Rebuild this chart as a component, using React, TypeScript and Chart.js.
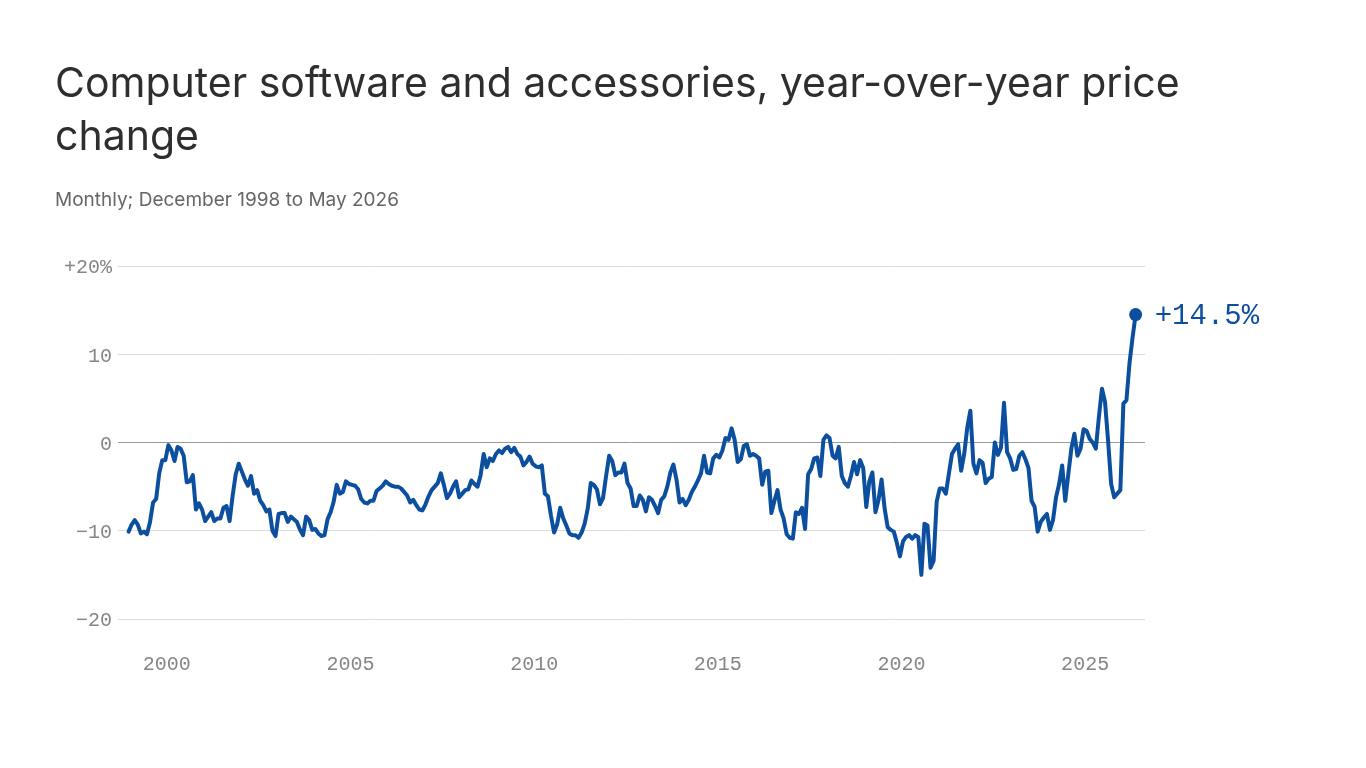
import { useEffect, useRef } from 'react';
import { Chart, registerables } from 'chart.js';

Chart.register(...registerables);

// Year-over-year price change (%), monthly, Dec 1998 - May 2026
const START_YEAR = 1998;
const START_MONTH = 11; // December, 0-based

const yoy1998to2003 = [
  -10.1, // Dec 1998
  -9.3, -8.8, -9.3, -10.3, -10.1, -10.4, -9.0, -6.8, -6.4, -3.5, -2.0, -2.0, // 1999
  -0.3, -0.9, -2.1, -0.5, -0.7, -1.5, -4.5, -4.4, -3.7, -7.6, -6.9, -7.6, // 2000
  -8.9, -8.4, -7.9, -8.9, -8.6, -8.6, -7.4, -7.2, -8.9, -6.0, -3.6, -2.4, // 2001
  -3.3, -4.2, -4.9, -3.8, -5.8, -5.4, -6.6, -7.1, -7.8, -7.6, -10.0, -10.6, // 2002
  -8.1, -8.0, -8.0, -9.0, -8.4, -8.7, -9.0, -9.9, -10.5, -8.4, -8.8, -9.9, // 2003
];

const yoy2004to2008 = [
  -9.8, -10.3, -10.6, -10.5, -8.7, -7.9, -6.7, -4.8, -5.8, -5.6, -4.4, -4.7, // 2004
  -4.8, -4.9, -5.3, -6.4, -6.8, -6.9, -6.6, -6.6, -5.5, -5.2, -4.9, -4.4, // 2005
  -4.7, -4.9, -5.0, -5.0, -5.2, -5.6, -6.0, -6.8, -6.5, -7.1, -7.6, -7.7, // 2006
  -7.0, -6.1, -5.4, -5.0, -4.6, -3.5, -4.8, -6.3, -5.8, -5.0, -4.4, -6.2, // 2007
  -5.8, -5.4, -5.3, -4.3, -4.7, -5.0, -3.7, -1.3, -2.8, -1.8, -2.1, -1.3, // 2008
];

const yoy2009to2013 = [
  -0.9, -1.2, -0.7, -0.5, -1.1, -0.6, -1.3, -1.6, -2.6, -2.2, -1.6, -2.4, // 2009
  -2.7, -2.8, -2.6, -5.8, -6.1, -8.3, -10.2, -9.3, -7.4, -8.6, -9.4, -10.3, // 2010
  -10.5, -10.5, -10.8, -10.2, -9.2, -7.5, -4.6, -4.8, -5.3, -7.0, -6.3, -3.8, // 2011
  -1.5, -2.1, -3.7, -3.4, -3.4, -2.4, -4.6, -5.2, -7.2, -7.2, -6.0, -6.5, // 2012
  -7.8, -6.2, -6.5, -7.2, -8.0, -6.5, -6.1, -5.0, -3.4, -2.5, -4.2, -6.8, // 2013
];

const yoy2014to2018 = [
  -6.4, -7.1, -6.5, -5.6, -5.0, -4.3, -3.5, -1.5, -3.4, -3.5, -1.8, -1.4, // 2014
  -1.7, -0.9, 0.5, 0.3, 1.6, 0.3, -2.2, -1.9, -0.4, -0.2, -1.5, -1.3, // 2015
  -1.5, -1.8, -4.8, -3.3, -3.2, -8.0, -6.6, -5.4, -7.6, -8.6, -10.4, -10.8, // 2016
  -10.9, -7.9, -8.1, -7.4, -9.8, -3.6, -3.0, -1.8, -1.7, -3.8, 0.3, 0.8, // 2017
  0.5, -1.5, -1.8, -0.5, -3.8, -4.6, -5.0, -3.8, -2.2, -3.6, -2.0, -2.9, // 2018
];

const yoy2019to2023 = [
  -7.3, -4.4, -3.4, -7.9, -6.5, -4.2, -7.5, -9.6, -9.9, -10.1, -11.4, -12.9, // 2019
  -11.2, -10.7, -10.5, -10.9, -10.5, -10.7, -15.0, -9.2, -9.4, -14.2, -13.4, -6.7, // 2020
  -5.2, -5.2, -5.8, -3.5, -1.3, -0.7, -0.2, -3.2, -1.3, 1.7, 3.6, -2.4, // 2021
  -3.5, -2.0, -2.3, -4.6, -4.1, -3.9, 0.0, -1.4, -0.6, 4.5, -1.1, -1.8, // 2022
  -3.1, -3.0, -1.5, -1.1, -1.9, -2.9, -6.6, -7.3, -10.1, -9.0, -8.5, -8.1, // 2023
];

const yoy2024to2026 = [
  -9.9, -8.8, -6.2, -4.7, -2.6, -6.6, -3.6, -0.7, 1.0, -1.5, -0.7, 1.5, // 2024
  1.3, 0.4, 0.0, -0.7, 2.9, 6.1, 4.6, 0.2, -4.7, -6.2, -5.8, -5.4, // 2025
  4.4, 4.8, 9.0, 11.9, 14.5, // Jan-May 2026
];

const yTicks = [-20, -10, 0, 10, 20];
const xTicks = [2000, 2005, 2010, 2015, 2020, 2025];

const BLUE = '#0b4f9e';
const TICK_GREY = '#858585';
const MONO = '"Liberation Mono", "DejaVu Sans Mono", monospace';

const values = [
  ...yoy1998to2003,
  ...yoy2004to2008,
  ...yoy2009to2013,
  ...yoy2014to2018,
  ...yoy2019to2023,
  ...yoy2024to2026,
];

// plot each month at its middle
const points = values.map((v, i) => ({ x: START_YEAR + (START_MONTH + i + 0.5) / 12, y: v }));

const endLabel = {
  id: 'endLabel',
  afterDatasetsDraw(chart: Chart) {
    const meta = chart.getDatasetMeta(0);
    const last = meta.data[meta.data.length - 1];
    if (!last) return;
    const v = values[values.length - 1];
    const ctx = chart.ctx;
    ctx.save();
    ctx.font = `29px ${MONO}`;
    ctx.fillStyle = BLUE;
    ctx.textBaseline = 'middle';
    ctx.fillText(`${v > 0 ? '+' : ''}${v.toFixed(1)}%`, last.x + 19, last.y + 2);
    ctx.restore();
  },
};

function PriceChart() {
  const canvasRef = useRef<HTMLCanvasElement>(null);

  useEffect(() => {
    if (!canvasRef.current) return;
    const lastIndex = points.length - 1;

    const chart = new Chart(canvasRef.current, {
      type: 'line',
      data: {
        datasets: [
          {
            data: points,
            borderColor: BLUE,
            backgroundColor: BLUE,
            borderWidth: 4,
            borderJoinStyle: 'round',
            borderCapStyle: 'round',
            tension: 0,
            pointRadius: (ctx: any) => (ctx.dataIndex === lastIndex ? 6.5 : 0),
            pointHoverRadius: 0,
            pointBorderWidth: 0,
          },
        ],
      },
      options: {
        animation: false,
        responsive: true,
        maintainAspectRatio: false,
        layout: { padding: { top: 266, right: 221, bottom: 69, left: 0 } },
        plugins: { legend: { display: false }, tooltip: { enabled: false } },
        scales: {
          x: {
            type: 'linear',
            min: 1998.67,
            max: 2026.63,
            afterBuildTicks: (scale: any) => {
              scale.ticks = xTicks.map((value) => ({ value }));
            },
            afterFit: (scale: any) => {
              scale.height = 80;
            },
            grid: { display: false, drawTicks: false },
            border: { display: false },
            ticks: {
              color: TICK_GREY,
              font: { family: MONO, size: 20 },
              padding: 34,
              maxRotation: 0,
              callback: (v: any) => String(v),
            },
          },
          y: {
            min: -20,
            max: 20,
            afterBuildTicks: (scale: any) => {
              scale.ticks = yTicks.map((value) => ({ value }));
            },
            afterFit: (scale: any) => {
              scale.width = 118;
            },
            grid: {
              drawTicks: false,
              lineWidth: 1,
              color: (ctx: any) => (ctx.tick && ctx.tick.value === 0 ? '#9a9a9a' : '#dcdcdc'),
            },
            border: { display: false },
            ticks: {
              color: TICK_GREY,
              font: { family: MONO, size: 20 },
              padding: 6,
              labelOffset: 2,
              callback: (v: any) => {
                const n = Number(v);
                if (n === 20) return '+20%';
                if (n < 0) return `\u2212${Math.abs(n)}`;
                return String(n);
              },
            },
          },
        },
      },
      plugins: [endLabel],
    });

    return () => chart.destroy();
  }, []);

  return (
    <div style={{ position: 'absolute', left: 0, top: 0, width: 1366, height: 768 }}>
      <canvas ref={canvasRef} />
    </div>
  );
}

export default function App() {
  return (
    <div
      style={{
        position: 'fixed',
        inset: 0,
        width: 1366,
        height: 768,
        background: '#fff',
        overflow: 'hidden',
      }}
    >
      <PriceChart />
      <div
        style={{
          position: 'absolute',
          left: 55,
          top: 56,
          fontFamily: 'Inter, "Noto Sans", sans-serif',
          fontSize: 41,
          lineHeight: '53px',
          color: '#2e2e2e',
        }}
      >
        Computer software and accessories, year-over-year price
        <br />
        change
      </div>
      <div
        style={{
          position: 'absolute',
          left: 55,
          top: 188,
          fontFamily: 'Inter, "Noto Sans", sans-serif',
          fontSize: 19,
          color: '#666',
        }}
      >
        Monthly; December 1998 to May 2026
      </div>
    </div>
  );
}
